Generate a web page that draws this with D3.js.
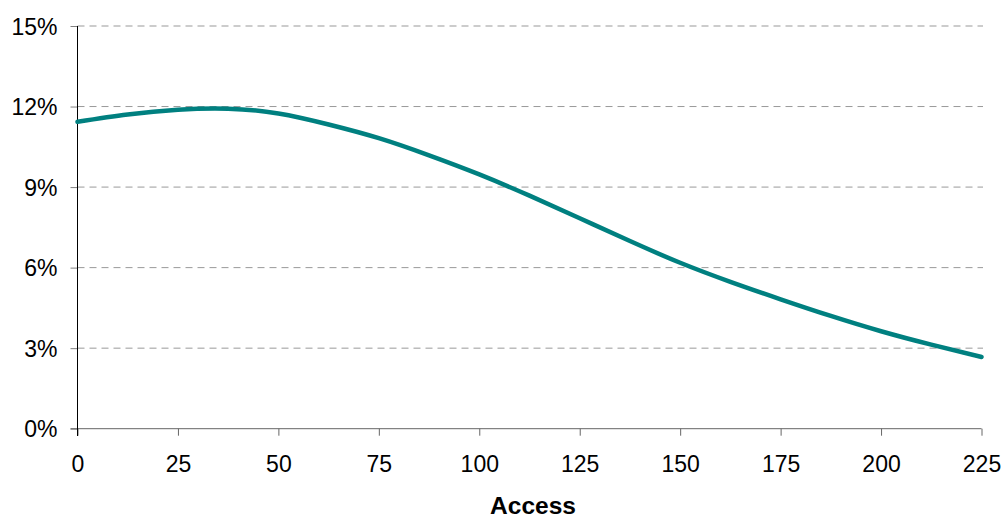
<!DOCTYPE html>
<html><head><meta charset="utf-8">
<script src="https://cdn.jsdelivr.net/npm/d3@7"></script>
<style>body{margin:0;background:#fff;} text{font-family:"Liberation Sans",Arial,sans-serif;fill:#000;}</style>
</head><body><svg id="c" width="1005" height="519"></svg>
<script>
const accessValues = [0,12.5,25,37.5,50,62.5,75,87.5,100,112.5,125,137.5,150,162.5,175,187.5,200,212.5,225];
const shareValues  = [11.43,11.70,11.88,11.92,11.74,11.33,10.82,10.18,9.47,8.68,7.84,6.99,6.18,5.47,4.82,4.20,3.63,3.13,2.67];
const xTicks = [0,25,50,75,100,125,150,175,200,225];
const yTicks = [0,3,6,9,12,15];
const xTitle = "Access";

const svg = d3.select("#c");
const x = d3.scaleLinear().domain([0,225]).range([77.5,981.5]);
const y = d3.scaleLinear().domain([0,15]).range([428.7,26]);

// gridlines
svg.append("g").selectAll("line").data(yTicks.filter(d=>d>0)).join("line")
  .attr("x1",x(0)).attr("x2",983).attr("y1",d=>y(d)).attr("y2",d=>y(d))
  .attr("stroke","#999").attr("stroke-width",1).attr("stroke-dasharray","7,5");

// y axis
const ya = svg.append("g").attr("transform",`translate(${x(0)},0)`)
  .call(d3.axisLeft(y).tickValues(yTicks).tickSize(7).tickFormat(d=>d+"%"));
ya.select(".domain").attr("d",`M0,${y(15)}V436`).attr("stroke","#000");
ya.selectAll(".tick line").attr("stroke","#808080");
ya.selectAll(".tick text").attr("x",-20).attr("dy","0.36em").style("font-size","23px").style("font-family","Liberation Sans, Arial, sans-serif").attr("fill","#000");

// x axis
const xa = svg.append("g").attr("transform",`translate(0,${y(0)})`)
  .call(d3.axisBottom(x).tickValues(xTicks).tickSize(7).tickFormat(d3.format("d")));
xa.select(".domain").attr("d",`M${x(0)-7},0H${x(225)}`).attr("stroke","#666");
xa.selectAll(".tick line").attr("stroke","#666");
xa.selectAll(".tick text").attr("y",27).attr("dy","0.71em").style("font-size","23px").style("font-family","Liberation Sans, Arial, sans-serif").attr("fill","#000");

// redraw y axis line on top of x axis
svg.append("line").attr("x1",x(0)).attr("x2",x(0)).attr("y1",y(15)).attr("y2",436).attr("stroke","#000");

// curve
const data = accessValues.map((a,i)=>({a, v: shareValues[i]}));
svg.append("path").datum(data)
  .attr("fill","none").attr("stroke","#008080").attr("stroke-width",4.5).attr("stroke-linecap","round")
  .attr("d", d3.line().x(d=>x(d.a)).y(d=>y(d.v)).curve(d3.curveNatural));

svg.append("text").attr("x",533).attr("y",514).attr("text-anchor","middle")
  .style("font-size","24.5px").style("font-weight","bold").text(xTitle);
</script></body></html>
